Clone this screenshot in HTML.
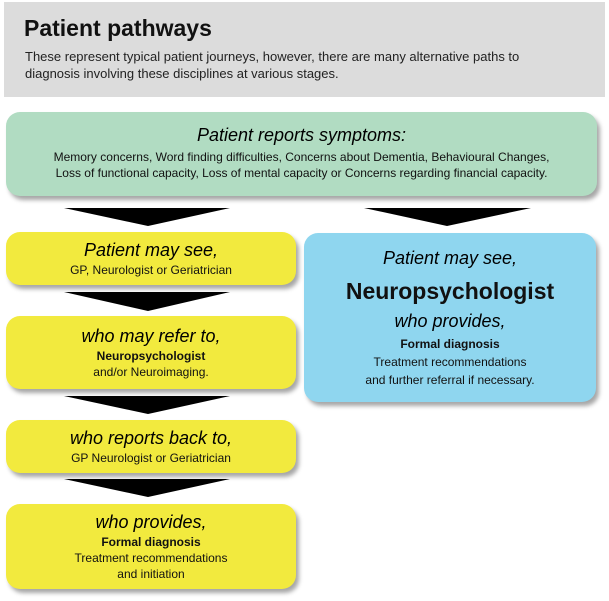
<!DOCTYPE html>
<html><head><meta charset="utf-8"><style>
body{margin:0;width:609px;height:601px;background:#fff;font-family:"Liberation Sans",Arial,sans-serif;position:relative;overflow:hidden;color:#111}
.hdr{position:absolute;left:4px;top:2px;width:601px;height:95px;background:#dcdcdc}
.hdr h1{margin:0;position:absolute;left:20px;top:13px;font-size:23px;font-weight:bold;color:#111}
.hdr p{margin:0;position:absolute;left:21px;top:46px;font-size:13px;line-height:17px;color:#222}
.box{position:absolute;border-radius:14px;box-shadow:3px 4px 4px rgba(0,0,0,0.35);display:flex;flex-direction:column;justify-content:center;align-items:center;text-align:center;font-size:12px;line-height:16px}
.y{background:#f2ea3e}
.h{font-style:italic;font-size:18px;line-height:22px;margin-bottom:1px;color:#000}
.b{font-weight:bold}
svg{position:absolute;left:0;top:0}
</style></head><body>
<div class="hdr"><h1>Patient pathways</h1><p>These represent typical patient journeys, however, there are many alternative paths to<br>diagnosis involving these disciplines at various stages.</p></div>
<div class="box" style="left:6px;top:112px;width:591px;height:84px;background:#b1dcc2">
<div class="h" style="margin-bottom:3px;margin-top:-4px">Patient reports symptoms:</div>
<div>Memory concerns, Word finding difficulties, Concerns about Dementia, Behavioural Changes,<br>Loss of functional capacity, Loss of mental capacity or Concerns regarding financial capacity.</div></div>
<svg width="609" height="601">
<polygon points="64,208 230,208 148,226" fill="#000"/>
<polygon points="364,208 531,208 447,226" fill="#000"/>
<polygon points="64,292 230,292 148,311" fill="#000"/>
<polygon points="64,396 230,396 148,414" fill="#000"/>
<polygon points="64,479 230,479 148,497" fill="#000"/>
</svg>
<div class="box y" style="left:6px;top:232px;width:290px;height:53px"><div class="h">Patient may see,</div><div>GP, Neurologist or Geriatrician</div></div>
<div class="box y" style="left:6px;top:316px;width:290px;height:73px"><div class="h">who may refer to,</div><div class="b">Neuropsychologist</div><div>and/or Neuroimaging.</div></div>
<div class="box y" style="left:6px;top:420px;width:290px;height:53px"><div class="h">who reports back to,</div><div>GP Neurologist or Geriatrician</div></div>
<div class="box y" style="left:6px;top:504px;width:290px;height:85px"><div class="h">who provides,</div><div class="b">Formal diagnosis</div><div>Treatment recommendations<br>and initiation</div></div>
<div class="box" style="left:304px;top:233px;width:292px;height:169px;background:#8fd6ef;line-height:18px">
<div class="h">Patient may see,</div>
<div style="font-weight:bold;font-size:23px;line-height:30px;margin:6px 0 4px">Neuropsychologist</div>
<div class="h" style="margin-bottom:3px">who provides,</div><div class="b">Formal diagnosis</div><div>Treatment recommendations<br>and further referral if necessary.</div></div>
</body></html>
